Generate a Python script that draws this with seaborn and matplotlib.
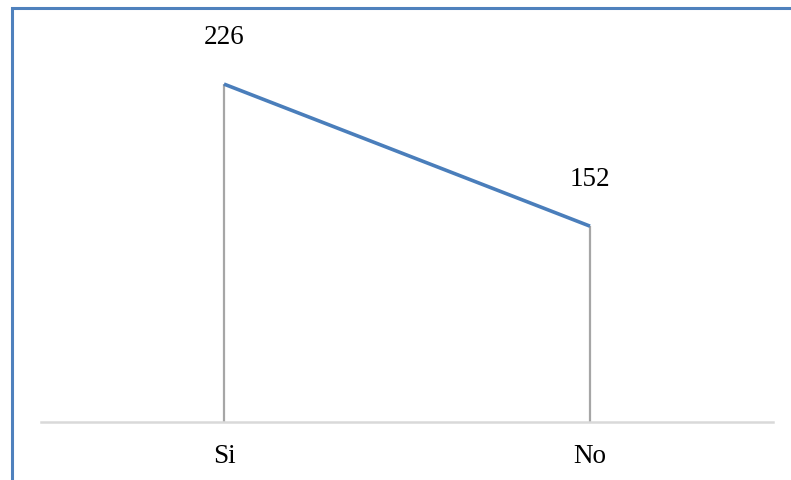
import matplotlib
matplotlib.use("Agg")
import matplotlib.pyplot as plt
import seaborn as sns
import pandas as pd
from matplotlib.patches import Rectangle

categories = ["Si", "No"]
values = [226, 152]

sns.set_theme(style="white")
plt.rcParams["font.family"] = ["Liberation Serif", "DejaVu Serif"]

df = pd.DataFrame({"respuesta": categories, "total": values})

W, H = 791, 480
fig = plt.figure(figsize=(W / 100, H / 100), dpi=100)
# plot area: x 41..773 px, y 38..422 px (from top)
ax = fig.add_axes([41 / W, 1 - 422 / H, (773 - 41) / W, (422 - 38) / H])

x = list(range(len(categories)))
df["x"] = x
sns.lineplot(data=df, x="x", y="total", ax=ax, color="#4a7ebb", linewidth=2.6,
             solid_capstyle="butt", zorder=3)

ax.set_xlim(-0.5, len(categories) - 0.5)
ax.set_ylim(50, 250)

# drop lines from each point to the category axis
ax.vlines(x, 50, values, color="#a6a6a6", linewidth=1.6, zorder=2)

# value labels
for xi, v in zip(x, values):
    ax.annotate(str(v), (xi, v), xytext=(0, 47), textcoords="offset pixels",
                ha="center", va="center", fontsize=19.5, color="black")

ax.set_xticks(x)
ax.set_xticklabels(categories, fontsize=19.5, color="black")
ax.set_yticks([])
ax.tick_params(axis="x", length=0, pad=16)
ax.set_xlabel("")
ax.set_ylabel("")
for side in ["top", "right", "left"]:
    ax.spines[side].set_visible(False)
ax.spines["bottom"].set_color("#d9d9d9")
ax.spines["bottom"].set_linewidth(1.8)
ax.patch.set_alpha(0)

# outer frame
fig.patches.append(Rectangle((11.5 / W, -0.1), 1.2, 1 - 7.5 / H + 0.1,
                             transform=fig.transFigure, fill=False,
                             edgecolor="#4f81bd", linewidth=2.2))

fig.savefig("out.png", dpi=100)
